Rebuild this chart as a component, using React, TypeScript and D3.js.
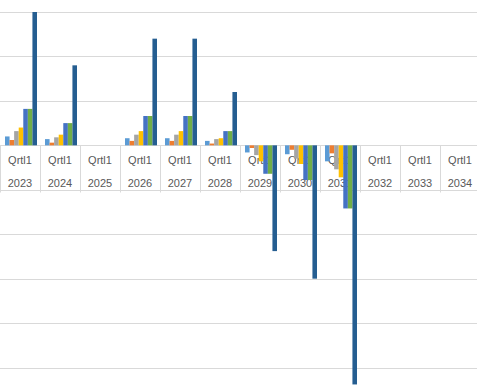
import React from 'react';
import * as d3 from 'd3';

// categories (two-level axis: quarter over year)
const years = ['2023', '2024', '2025', '2026', '2027', '2028', '2029', '2030', '2031', '2032', '2033', '2034'];
const quarter = 'Qrtl1';

// series values, one per year
const series1 = [10, 7, 0, 8, 8, 5, -8, -10, -18, 0, 0, 0];
const series2 = [6, 3, 0, 5, 5, 2, -3, -5, -9, 0, 0, 0];
const series3 = [16, 9, 0, 12, 12, 7, -11, -15, -27, 0, 0, 0];
const series4 = [20, 12, 0, 16, 16, 8, -18, -21, -36, 0, 0, 0];
const series5 = [41, 25, 0, 33, 33, 16, -32, -39, -71, 0, 0, 0];
const series6 = [41, 25, 0, 33, 33, 16, -32, -39, -71, 0, 0, 0];
const series7 = [150, 90, 0, 120, 120, 60, -119, -150, -269, 0, 0, 0];

const seriesNames = ['S1', 'S2', 'S3', 'S4', 'S5', 'S6', 'S7'];
const seriesValues = [series1, series2, series3, series4, series5, series6, series7];
const colors = ['#5B9BD5', '#ED7D31', '#A5A5A5', '#FFC000', '#4472C4', '#70AD47', '#255E91'];

// value axis (gridlines only, labels are off-frame)
const yMin = -300;
const yMax = 150;
const yStep = 50;

const W = 477;
const H = 392;

export default function App() {
  const x0 = d3.scaleBand<string>().domain(years).range([0, 480]);
  // cluster sits slightly right of centre, like Excel draws it
  const x1 = d3.scaleBand<string>()
    .domain(seriesNames)
    .range([1, x0.bandwidth() + 1])
    .paddingInner(0)
    .paddingOuter(0.875);
  const y = d3.scaleLinear().domain([yMax, yMin]).range([12, 412]);

  const ticks = d3.range(yMin, yMax + 1, yStep);
  const zeroY = Math.round(y(0)) + 0.5;
  const gridColor = '#D9D9D9';
  const textColor = '#595959';

  return (
    <svg width={W} height={H} style={{ position: 'absolute', left: 0, top: 0, display: 'block', background: '#fff' }}
      fontFamily="'Liberation Sans', Arial, sans-serif">
      {/* gridlines */}
      {ticks.map(t => (
        <line key={t} x1={0} x2={W} y1={Math.round(y(t)) + 0.5} y2={Math.round(y(t)) + 0.5}
          stroke={gridColor} strokeWidth={1} />
      ))}

      {/* category axis line and dividers */}
      <line x1={0} x2={W} y1={zeroY} y2={zeroY} stroke={gridColor} />
      {years.map(yr => (
        <line key={'d' + yr} x1={Math.round(x0(yr)!) + 0.5} x2={Math.round(x0(yr)!) + 0.5}
          y1={zeroY} y2={zeroY + 47} stroke={gridColor} />
      ))}

      {/* labels */}
      {years.map(yr => (
        <g key={'l' + yr} fill={textColor} fontSize={11} textAnchor="middle">
          <text x={x0(yr)! + x0.bandwidth() / 2} y={zeroY + 18}>{quarter}</text>
          <text x={x0(yr)! + x0.bandwidth() / 2} y={zeroY + 41.5}>{yr}</text>
        </g>
      ))}

      {/* bars */}
      {years.map((yr, i) => (
        <g key={'b' + yr} transform={`translate(${x0(yr)},0)`}>
          {seriesNames.map((s, j) => {
            const v = seriesValues[j][i];
            if (!v) return null;
            const top = y(Math.max(0, v));
            const bottom = y(Math.min(0, v));
            return (
              <rect key={s} x={x1(s)} y={top} width={x1.bandwidth()} height={bottom - top}
                fill={colors[j]} />
            );
          })}
        </g>
      ))}
    </svg>
  );
}
